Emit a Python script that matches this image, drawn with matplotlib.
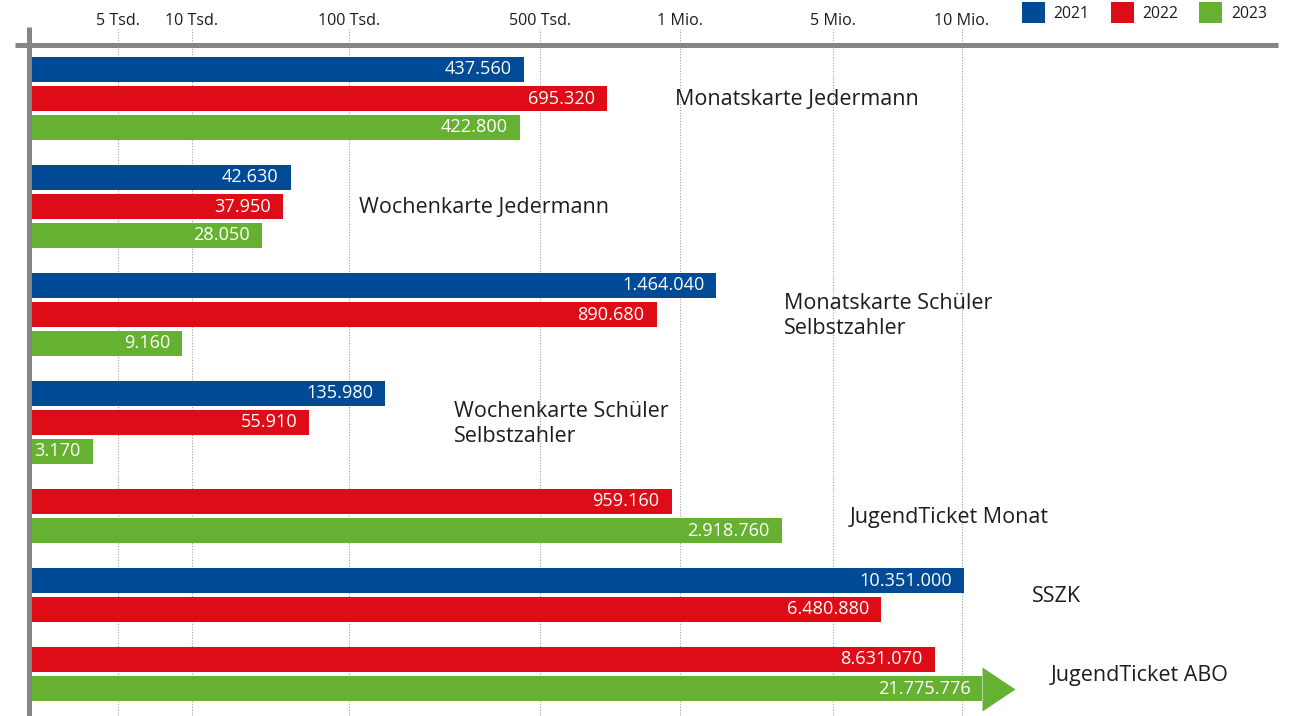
import numpy as np
import matplotlib
matplotlib.use("Agg")
import matplotlib.pyplot as plt
from matplotlib.patches import Patch

# Werte aus der Grafik
categories = [
    "Monatskarte Jedermann",
    "Wochenkarte Jedermann",
    "Monatskarte Schüler\nSelbstzahler",
    "Wochenkarte Schüler\nSelbstzahler",
    "JugendTicket Monat",
    "SSZK",
    "JugendTicket ABO",
]
years = ["2021", "2022", "2023"]
v2021 = [437560, 42630, 1464040, 135980, None, 10351000, None]
v2022 = [695320, 37950, 890680, 55910, 959160, 6480880, 8631070]
v2023 = [422800, 28050, 9160, 3170, 2918760, None, 21775776]

tick_values = [5000, 10000, 100000, 500000, 1000000, 5000000, 10000000]
tick_labels = ["5 Tsd.", "10 Tsd.", "100 Tsd.", "500 Tsd.", "1 Mio.", "5 Mio.", "10 Mio."]

colors = ["#004a96", "#de0c16", "#67b132"]
text_col = "#1d1d1b"
grey = "#858585"

# the original axis is not a clean log scale -> piecewise log scale
scale_values = [1e3, 5e3, 1e4, 1e5, 5e5, 1e6, 5e6, 1e7, 1e9]
scale_px = [0, 89.5, 163, 320.5, 511.5, 651.5, 804.5, 933.5, 1249.5]
scale_logs = np.log10(scale_values)
scale_pos = np.array(scale_px) / scale_px[-1]


def forward(x):
    x = np.maximum(np.asarray(x, dtype=float), 1e-9)
    return np.interp(np.log10(x), scale_logs, scale_pos)


def inverse(p):
    return 10 ** np.interp(p, scale_pos, scale_logs)


plt.rcParams["font.family"] = ["Open Sans", "DejaVu Sans"]

W, H = 1294, 716
fig = plt.figure(figsize=(W / 100, H / 100), dpi=100)
ax_left, ax_right, ax_top = 28.5, 1278, 44.5
ax = fig.add_axes([ax_left / W, 0, (ax_right - ax_left) / W, (H - ax_top) / H])
ax.set_xscale("function", functions=(forward, inverse))
ax.set_xlim(scale_values[0], scale_values[-1])

pitch_px = 29
ax_h = H - ax_top
top_off = (69.5 - ax_top) / pitch_px
ax.set_ylim(ax_h / pitch_px - top_off, -top_off)

for s in ax.spines.values():
    s.set_visible(False)
ax.set_yticks([])
ax.set_xticks(tick_values)
ax.set_xticklabels(tick_labels, fontweight="medium")
ax.tick_params(axis="x", top=True, bottom=False, labeltop=True, labelbottom=False,
               length=0, pad=11.5, labelsize=11.6, labelcolor=text_col)
ax.minorticks_off()

# dotted gridlines, reaching a bit above the top line
ax.vlines(tick_values, 0, 1 + 15.5 / ax_h, transform=ax.get_xaxis_transform(),
          colors="#a0a0a0", linestyles=(0, (1, 1.5)), linewidth=0.8,
          zorder=0, clip_on=False)

# frame lines (cross at top left)
ax.plot([-13.5 / (ax_right - ax_left), 1], [1, 1], transform=ax.transAxes,
        color=grey, lw=3.6, solid_capstyle="butt", clip_on=False, zorder=4)
ax.plot([0, 0], [0, 1 + 17.5 / ax_h], transform=ax.transAxes,
        color=grey, lw=3.6, solid_capstyle="butt", clip_on=False, zorder=4)

bar_h = 25 / pitch_px
group_gap = 21 / pitch_px
head_len_px = 33
head_h_px = 44
xmin = scale_values[0]

series = [v2021, v2022, v2023]
y = 0.0
for gi, cat in enumerate(categories):
    ys = []
    ends = []
    for si, vals in enumerate(series):
        v = vals[gi]
        if v is None:
            continue
        end = v
        # bars that run past 10 Mio. get an arrow head
        if v > tick_values[-1] * 2:
            tip = ax.transData.transform((v, y))
            end = ax.transData.inverted().transform((tip[0] - head_len_px, tip[1]))[0]
            ms = head_h_px * 1.5 * 0.72
            ax.plot([v], [y], marker=[(-1.5, -1), (-1.5, 1), (0, 0)], markersize=ms,
                    color=colors[si], markeredgewidth=0, linestyle="none", zorder=2)
        ax.barh(y, end - xmin, left=xmin, height=bar_h, color=colors[si],
                edgecolor="none", zorder=2)
        lab = f"{v:,}".replace(",", ".")
        ax.annotate(lab, (end, y), xytext=(-8.6, 0), textcoords="offset points",
                    ha="right", va="center", color="white", fontsize=13.1, zorder=3)
        ys.append(y)
        ends.append(end)
        y += 1
    yc = (ys[0] + ys[-1]) / 2
    ax.annotate(cat, (max(ends), yc), xytext=(49, -1), textcoords="offset points",
                ha="left", va="center", color=text_col, fontsize=15.5,
                linespacing=1.25)
    y += group_gap

handles = [Patch(facecolor=c, edgecolor="none") for c in colors]
fig.legend(handles, years, ncol=3, loc="upper right",
           bbox_to_anchor=(1267 / W, 1 - 2 / H), frameon=False, fontsize=11.3,
           handlelength=1.47, handleheight=1.66, handletextpad=0.55,
           columnspacing=1.35, borderpad=0, borderaxespad=0, labelcolor=text_col)

fig.savefig("out.png", dpi=100)
